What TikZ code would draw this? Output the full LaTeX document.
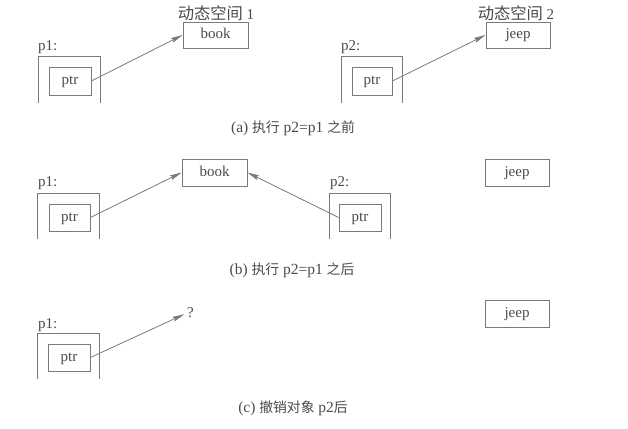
\documentclass[tikz,border=0pt]{standalone}
\usepackage{fontspec}
\setmainfont{Liberation Serif}
\newfontfamily\cjk{Noto Sans CJK SC}
\usetikzlibrary{arrows.meta}
\definecolor{lin}{HTML}{7A7A7A}
\definecolor{txt}{HTML}{4A4A4A}
\newcommand{\capcjk}[1]{{\fontsize{13.8}{16}\cjk #1}}
\newcommand{\titcjk}[1]{{\fontsize{16.3}{18}\cjk #1}}
\tikzset{
  box/.style={draw=lin, line width=0.8pt, inner sep=0pt, text=txt, text height=10.5pt, text depth=3.5pt, font=\fontsize{15}{17}\selectfont},
  frame/.style={inner sep=0pt},
  lbl/.style={text=txt, font=\fontsize{15}{17}\selectfont, inner sep=0pt},
  captxt/.style={text=txt, font=\fontsize{15.5}{17}\selectfont, inner sep=0pt},
  side/.style={draw=lin, line width=0.8pt},
  ptrarrow/.style={draw=lin, line width=0.8pt, -{Stealth[length=12pt,width=5pt,inset=2pt]}}
}
\begin{document}
\begin{tikzpicture}[x=1pt,y=-1pt]
\useasboundingbox (0,0) rectangle (628,428);
% ---------- (a)
\node[lbl] (t1) at (216,13) {\titcjk{动态空间} 1};
\node[lbl] (t2) at (516,13) {\titcjk{动态空间} 2};
\node[box, minimum width=65pt, minimum height=26pt] (bookA) at (215.5,35) {book};
\node[box, minimum width=64pt, minimum height=26pt] (jeepA) at (518,35) {jeep};
\node[frame, minimum width=61pt, minimum height=46pt] (f1A) at (69.5,80) {};
\node[box, minimum width=42pt, minimum height=28pt] (ptr1A) at (70,81) {ptr};
\node[lbl, anchor=west] (l1A) at (38,47) {p1:};
\node[frame, minimum width=60pt, minimum height=46pt] (f2A) at (372,80) {};
\node[box, minimum width=40pt, minimum height=28pt] (ptr2A) at (372,81) {ptr};
\node[lbl, anchor=west] (l2A) at (341,47) {p2:};
\draw[side] (f1A.south west) |- (f1A.north east) -- (f1A.south east);
\draw[side] (f2A.south west) |- (f2A.north east) -- (f2A.south east);
\draw[ptrarrow] (ptr1A.east) -- (bookA.west);
\draw[ptrarrow] (ptr2A.east) -- (jeepA.west);
\node[captxt] (capA) at (293,128) {(a) \capcjk{执行} p2=p1 \capcjk{之前}};
% ---------- (b)
\node[box, minimum width=65pt, minimum height=27pt] (bookB) at (214.5,172.5) {book};
\node[box, minimum width=64pt, minimum height=27pt] (jeepB) at (517,172.5) {jeep};
\node[frame, minimum width=61pt, minimum height=45pt] (f1B) at (68.5,216.5) {};
\node[box, minimum width=41pt, minimum height=27pt] (ptr1B) at (69.5,217.5) {ptr};
\node[lbl, anchor=west] (l1B) at (38,183) {p1:};
\node[frame, minimum width=60pt, minimum height=45pt] (f2B) at (360,216.5) {};
\node[box, minimum width=42pt, minimum height=27pt] (ptr2B) at (360,217.5) {ptr};
\node[lbl, anchor=west] (l2B) at (330,183) {p2:};
\draw[side] (f1B.south west) |- (f1B.north east) -- (f1B.south east);
\draw[side] (f2B.south west) |- (f2B.north east) -- (f2B.south east);
\draw[ptrarrow] (ptr1B.east) -- (bookB.west);
\draw[ptrarrow] (ptr2B.west) -- (bookB.east);
\node[captxt] (capB) at (292,270) {(b) \capcjk{执行} p2=p1 \capcjk{之后}};
% ---------- (c)
\node[box, minimum width=64pt, minimum height=27pt] (jeepC) at (517,313.5) {jeep};
\node[frame, minimum width=61pt, minimum height=45pt] (f1C) at (68.5,356.5) {};
\node[box, minimum width=42pt, minimum height=27pt] (ptr1C) at (69,357.5) {ptr};
\node[lbl, anchor=west] (l1C) at (38,325) {p1:};
\node[lbl, anchor=west] (q) at (187,313) {?};
\draw[side] (f1C.south west) |- (f1C.north east) -- (f1C.south east);
\draw[ptrarrow, shorten >=3pt] (ptr1C.east) -- (q.west);
\node[captxt] (capC) at (293,408) {(c) \capcjk{撤销对象} p2\capcjk{后}};
\end{tikzpicture}
\end{document}
